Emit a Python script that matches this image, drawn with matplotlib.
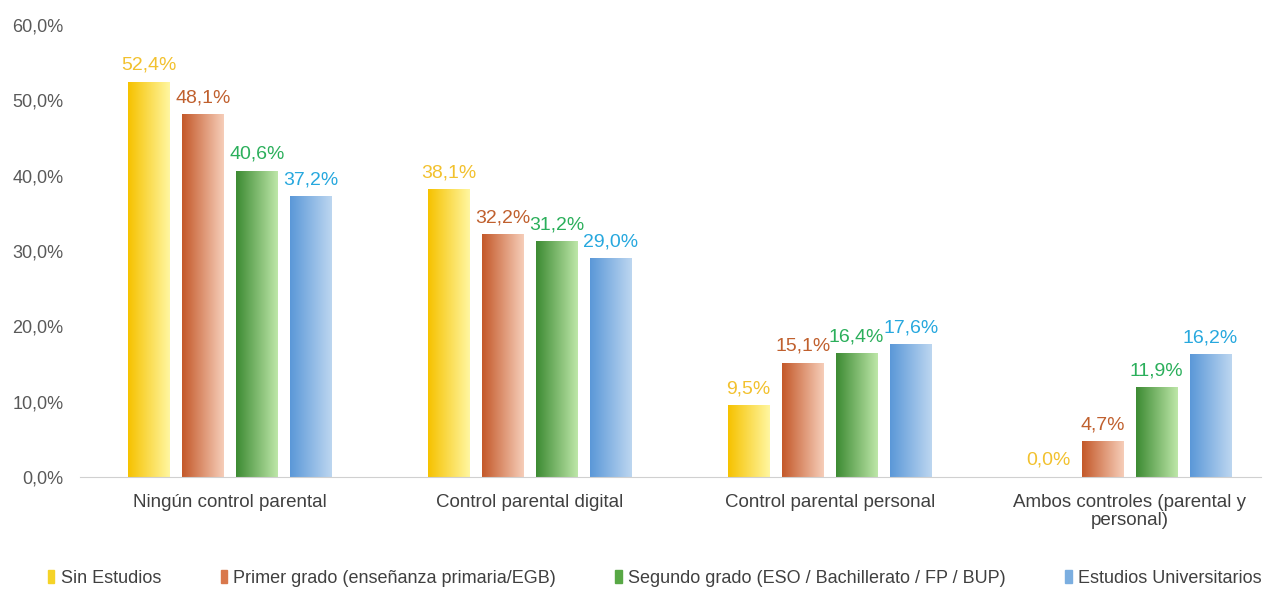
import numpy as np
import matplotlib
matplotlib.use('Agg')
import matplotlib.pyplot as plt
from matplotlib.colors import LinearSegmentedColormap
from matplotlib.patches import Rectangle

# datos
categories = ['Ningún control parental', 'Control parental digital',
              'Control parental personal', 'Ambos controles (parental y\npersonal)']
series_names = ['Sin Estudios', 'Primer grado (enseñanza primaria/EGB)',
                'Segundo grado (ESO / Bachillerato / FP / BUP)', 'Estudios Universitarios']
sin_estudios = [52.4, 38.1, 9.5, 0.0]
primer_grado = [48.1, 32.2, 15.1, 4.7]
segundo_grado = [40.6, 31.2, 16.4, 11.9]
universitarios = [37.2, 29.0, 17.6, 16.2]
y_ticks = [0, 10, 20, 30, 40, 50, 60]

values = [sin_estudios, primer_grado, segundo_grado, universitarios]
# gradientes: izquierda oscura -> derecha clara
grads = [('#F6C200', '#FFF6A0'), ('#C4592A', '#F6CDB8'),
         ('#3D8B33', '#BDE6A8'), ('#5B98D8', '#BCD6F0')]
label_colors = ['#F2C12E', '#C0602E', '#2BAF5B', '#27A8DE']
legend_colors = ['#F5D327', '#D9784C', '#58A845', '#7BAEE0']

plt.rcParams['font.family'] = ['Liberation Sans', 'DejaVu Sans']

fig = plt.figure(figsize=(12.64, 5.9), dpi=100)
ax = fig.add_axes([0.0633, 0.1915, 0.9347, 0.7661])

x = np.arange(len(categories))
pitch = 0.18
width = 0.14
for i, vals in enumerate(values):
    offs = (i - 1.5) * pitch
    bars = ax.bar(x + offs, vals, width, color='none', edgecolor='none')
    cmap = LinearSegmentedColormap.from_list('g%d' % i, grads[i])
    grad = np.linspace(0, 1, 64).reshape(1, -1)
    for b, v in zip(bars, vals):
        bx, bw, bh = b.get_x(), b.get_width(), b.get_height()
        if bh > 0:
            ax.imshow(grad, cmap=cmap, aspect='auto',
                      extent=(bx, bx + bw, 0, bh), zorder=2)
        ax.annotate(('%.1f%%' % v).replace('.', ','),
                    (bx + bw / 2, bh), xytext=(0, 6), textcoords='offset points',
                    ha='center', va='bottom', fontsize=14,
                    color=label_colors[i])

ax.set_xlim(-0.5, 3.44)
ax.set_ylim(0, 60)
ax.set_yticks(y_ticks)
ax.set_yticklabels([('%.1f%%' % t).replace('.', ',') for t in y_ticks],
                   fontsize=13, color='#595959')
ax.set_xticks(x)
ax.set_xticklabels(categories, fontsize=13.5, color='#404040', linespacing=1.1)
ax.tick_params(axis='both', length=0)
ax.tick_params(axis='x', pad=12)
ax.tick_params(axis='y', pad=12)
for s in ['top', 'right', 'left']:
    ax.spines[s].set_visible(False)
ax.spines['bottom'].set_color('#D0D0D0')

handles = [Rectangle((0, 0), 1, 1, color=c) for c in legend_colors]
fig.legend(handles, series_names, loc='center', bbox_to_anchor=(0.518, 0.02),
           ncol=4, frameon=False, handlelength=0.35,
           handleheight=0.8, handletextpad=0.35, columnspacing=3.3,
           labelcolor='#404040', fontsize=13)

fig.savefig('out.png', dpi=100)
